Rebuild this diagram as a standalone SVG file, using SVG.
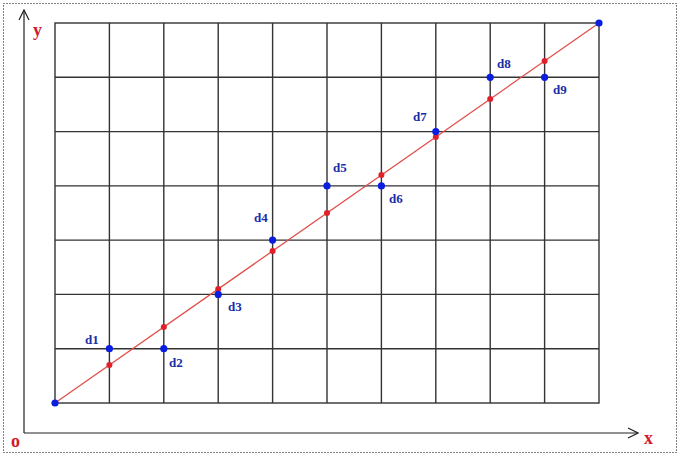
<svg xmlns="http://www.w3.org/2000/svg" width="680" height="460" viewBox="0 0 680 460">
<style>
.grid{stroke:#333;stroke-width:1.4;fill:none}
.axis{stroke:#222;stroke-width:1.2;fill:none}
.red{fill:#e0202a}
.blue{fill:#0a1ee0}
.lab{font-family:"Liberation Serif",serif;font-weight:bold;font-size:13px;fill:#1a2ca8}
.ax{font-family:"Liberation Serif",serif;font-weight:bold;font-size:18px;fill:#d01a2a}
</style>
<defs>
<marker id="arr" viewBox="0 0 12 12" refX="11" refY="6" markerWidth="12" markerHeight="12" markerUnits="userSpaceOnUse" orient="auto">
<path d="M1,1 L11,6 L1,11" fill="none" stroke="#222" stroke-width="1.2"/>
</marker>
</defs>
<rect x="3.5" y="3.5" width="673" height="449" fill="#fff" stroke="#000" stroke-width="1" stroke-dasharray="1,2"/>
<g id="axes">
<path class="axis" d="M24,433 V10" marker-end="url(#arr)"/>
<path class="axis" d="M24,433 H638" marker-end="url(#arr)"/>
<text class="ax" x="33" y="36">y</text>
<text class="ax" x="11" y="447">o</text>
<text class="ax" x="644" y="444">x</text>
</g>
<g id="grid" class="grid">
<rect x="55" y="23" width="544" height="380"/>
<path d="M109.4,23V403M163.8,23V403M218.2,23V403M272.6,23V403M327,23V403M381.4,23V403M435.8,23V403M490.2,23V403M544.6,23V403"/>
<path d="M55,77.3H599M55,131.6H599M55,185.9H599M55,240.1H599M55,294.4H599M55,348.7H599"/>
</g>
<g id="connectors">
<line x1="55" y1="403" x2="599" y2="23" stroke="#e0504a" stroke-width="1.3"/>
</g>
<g id="red-points" class="red">
<circle cx="109.4" cy="365" r="3"/>
<circle cx="163.8" cy="327" r="3"/>
<circle cx="218.2" cy="289" r="3"/>
<circle cx="272.6" cy="251" r="3"/>
<circle cx="327" cy="213" r="3"/>
<circle cx="381.4" cy="175" r="3"/>
<circle cx="435.8" cy="137" r="3"/>
<circle cx="490.2" cy="99" r="3"/>
<circle cx="544.6" cy="61" r="3"/>
</g>
<g id="p0"><circle class="blue" cx="55" cy="403" r="3.6"/></g>
<g id="d1"><circle class="blue" cx="109.4" cy="348.7" r="3.6"/><text class="lab" x="85" y="344">d1</text></g>
<g id="d2"><circle class="blue" cx="163.8" cy="348.7" r="3.6"/><text class="lab" x="169" y="367">d2</text></g>
<g id="d3"><circle class="blue" cx="218.2" cy="294.4" r="3.6"/><text class="lab" x="228" y="311">d3</text></g>
<g id="d4"><circle class="blue" cx="272.6" cy="240.1" r="3.6"/><text class="lab" x="254" y="222">d4</text></g>
<g id="d5"><circle class="blue" cx="327" cy="185.9" r="3.6"/><text class="lab" x="333" y="172">d5</text></g>
<g id="d6"><circle class="blue" cx="381.4" cy="185.9" r="3.6"/><text class="lab" x="389" y="203">d6</text></g>
<g id="d7"><circle class="blue" cx="435.8" cy="131.6" r="3.6"/><text class="lab" x="413" y="121">d7</text></g>
<g id="d8"><circle class="blue" cx="490.2" cy="77.3" r="3.6"/><text class="lab" x="497" y="68">d8</text></g>
<g id="d9"><circle class="blue" cx="544.6" cy="77.3" r="3.6"/><text class="lab" x="553" y="94">d9</text></g>
<g id="p10"><circle class="blue" cx="599" cy="23" r="3.6"/></g>
</svg>
